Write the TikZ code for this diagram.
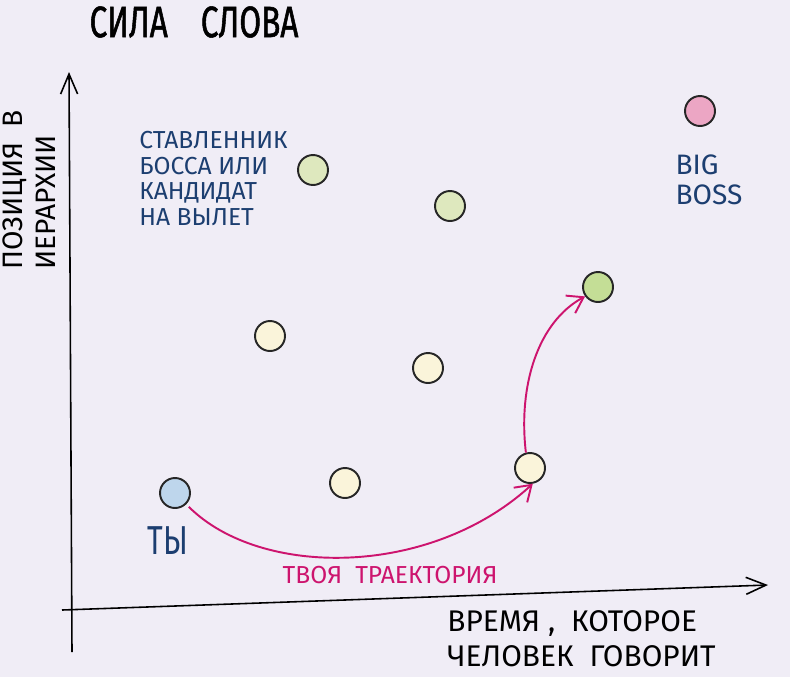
\documentclass[tikz,border=0pt]{standalone}
\usepackage{fontspec}
\setmainfont{Fira Sans}
\newfontfamily\narrowfont[FakeStretch=0.75]{Fira Sans}
\newfontfamily\titlefont[FakeStretch=0.72, FakeBold=1.2]{Fira Sans}
\usetikzlibrary{positioning, arrows.meta}
\definecolor{skBack}{RGB}{240,237,246}
\definecolor{skNavy}{RGB}{28,62,112}
\definecolor{skMagenta}{RGB}{205,20,110}
\definecolor{skPaleGreen}{RGB}{222,232,190}
\definecolor{skGreen}{RGB}{196,222,150}
\definecolor{skCream}{RGB}{250,244,218}
\definecolor{skBlue}{RGB}{190,214,236}
\definecolor{skPink}{RGB}{236,166,196}

\begin{document}
\begin{tikzpicture}[
      x=0.02cm, y=-0.02cm,
      dot/.style={circle, draw=black!85, line width=1.1pt, minimum size=0.6cm, inner sep=0pt},
      note/.style={text=skNavy, align=left, inner sep=0pt},
      axis/.style={line width=0.9pt, -{Straight Barb[length=4mm, width=3.4mm]}},
      trail/.style={skMagenta, line width=1.1pt, -{Straight Barb[length=3mm, width=4mm]}},
      node distance=0.4cm and 0.5cm
    ]
      \useasboundingbox[fill=skBack] (0,0) rectangle (790,677);

      % axes
      \coordinate (ybot) at (72,652);
      \coordinate (ytop) at (69,72);
      \coordinate (xleft) at (62,610);
      \coordinate (xright) at (768,585);
      \draw[axis] (ybot) -- (ytop);
      \draw[axis] (xleft) -- (xright);

      \node[font=\titlefont\fontsize{25}{28}\selectfont] (title) at (194,22) {СИЛА\hspace{0.75em}СЛОВА};
      \node[rotate=90, align=left, font=\fontsize{16}{19}\selectfont] (ylabel) at (29,190) {ПОЗИЦИЯ\ \ В\\ИЕРАРХИИ};
      \node[anchor=north west, align=left, inner sep=0pt, font=\fontsize{17}{20}\selectfont] (xlabel) at (447,610) {ВРЕМЯ\ , \ КОТОРОЕ\\ЧЕЛОВЕК\ \ ГОВОРИТ};

      % dots
      \node[dot, fill=skPaleGreen] (fav) at (313,170) {};
      \node[dot, fill=skPaleGreen] (upper) at (450,206) {};
      \node[dot, fill=skCream] (leftmid) at (270,336) {};
      \node[dot, fill=skCream] (centermid) at (428,368) {};
      \node[dot, fill=skCream] (low) at (345,483) {};
      \node[dot, fill=skCream] (step) at (530,468) {};
      \node[dot, fill=skGreen] (goal) at (598,287) {};
      \node[dot, fill=skBlue] (you) at (175,493) {};
      \node[dot, fill=skPink] (boss) at (700,111) {};

      \node[note, anchor=north west, font=\fontsize{14}{14.5}\selectfont] (fanote) at (139,131) {СТАВЛЕННИК\\БОССА ИЛИ\\КАНДИДАТ\\НА ВЫЛЕТ};
      \node[note, below=0.55cm of boss, xshift=0.18cm, font=\fontsize{16}{17}\selectfont] (bossnote) {BIG\\BOSS};
      \node[note, below=0.34cm of you, xshift=-0.14cm, font=\narrowfont\fontsize{23}{26}\selectfont] (younote) {ТЫ};

      \draw[trail, shorten <=2pt] (you.-45) .. controls (260,578) and (430,578) .. (step.-80);
      \draw[trail] (step.105) .. controls (518,385) and (538,322) .. (goal.216);
      \node[text=skMagenta, font=\fontsize{14}{16}\selectfont] (trailnote) at (390,575) {ТВОЯ\ \ ТРАЕКТОРИЯ};
    \end{tikzpicture}
\end{document}
